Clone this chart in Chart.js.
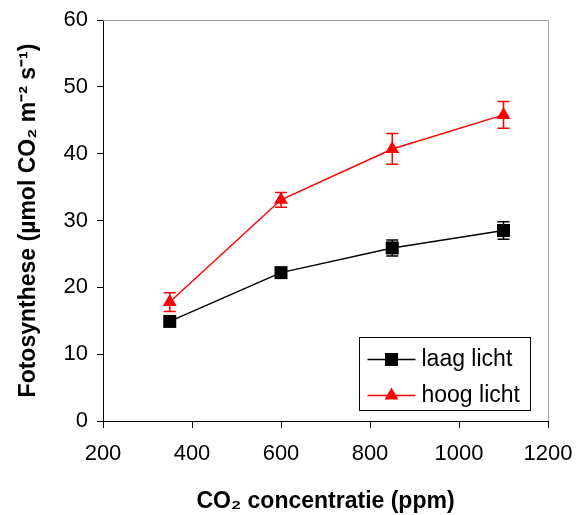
<!DOCTYPE html>
<html>
<head>
<meta charset="utf-8">
<script src="https://cdn.jsdelivr.net/npm/chart.js@4/dist/chart.umd.min.js"></script>
<style>
  html, body { margin: 0; padding: 0; background: #fff; }
</style>
</head>
<body>
<canvas id="myChart" width="576" height="515"></canvas>
<script>
// CO2 concentration (ppm) and photosynthesis values
var co2 = [350, 600, 850, 1100];
var laagLicht = [14.9, 22.2, 25.9, 28.5];
var laagFout = [0.6, 0.7, 1.2, 1.3];
var hoogLicht = [17.8, 33.1, 40.7, 45.8];
var hoogFout = [1.4, 1.1, 2.3, 2.0];
var xTicks = [200, 400, 600, 800, 1000, 1200];
var yTicks = [0, 10, 20, 30, 40, 50, 60];

var FONT = "'Liberation Sans', Arial, sans-serif";

function points(ys) {
  return co2.map(function(x, i) { return { x: x, y: ys[i] }; });
}

// error bars, drawn under the markers
var errorBars = {
  id: 'errorBars',
  beforeDatasetsDraw: function(chart) {
    var ctx = chart.ctx, xs = chart.scales.x, ys = chart.scales.y;
    chart.data.datasets.forEach(function(ds) {
      ctx.save();
      ctx.strokeStyle = ds.borderColor;
      ctx.lineWidth = 1.5;
      ds.data.forEach(function(p, i) {
        var px = xs.getPixelForValue(p.x);
        var top = ys.getPixelForValue(p.y + ds.errors[i]);
        var bot = ys.getPixelForValue(p.y - ds.errors[i]);
        ctx.beginPath();
        ctx.moveTo(px, top); ctx.lineTo(px, bot);
        ctx.moveTo(px - 6, top); ctx.lineTo(px + 6, top);
        ctx.moveTo(px - 6, bot); ctx.lineTo(px + 6, bot);
        ctx.stroke();
      });
      ctx.restore();
    });
  }
};

// grey top/right frame and the boxed legend inside the plot
var frameAndLegend = {
  id: 'frameAndLegend',
  afterDraw: function(chart) {
    var ctx = chart.ctx, a = chart.chartArea;
    ctx.save();
    ctx.strokeStyle = '#a0a0a0';
    ctx.lineWidth = 1;
    ctx.beginPath();
    ctx.moveTo(a.left, a.top + 0.5);
    ctx.lineTo(a.right + 0.5, a.top + 0.5);
    ctx.lineTo(a.right + 0.5, a.bottom);
    ctx.stroke();

    var w = 171, h = 73;
    var bx = Math.round(a.right - 18 - w) + 0.5;
    var by = Math.round(a.bottom - 11 - h) + 0.5;
    ctx.fillStyle = '#fff';
    ctx.fillRect(bx, by, w, h);
    ctx.strokeStyle = '#000';
    ctx.strokeRect(bx, by, w, h);

    chart.data.datasets.forEach(function(ds, i) {
      var cy = by + 22 + i * 36;
      var mx = bx + 32;
      ctx.strokeStyle = ds.borderColor;
      ctx.fillStyle = ds.backgroundColor;
      ctx.lineWidth = 1.5;
      ctx.beginPath();
      ctx.moveTo(bx + 8, cy); ctx.lineTo(bx + 56, cy);
      ctx.stroke();
      ctx.beginPath();
      if (ds.pointStyle === 'rect') {
        ctx.rect(mx - 6.5, cy - 6.5, 13, 13);
      } else {
        var r = ds.pointRadius;
        ctx.moveTo(mx, cy - r);
        ctx.lineTo(mx + r * 0.866, cy + r / 2);
        ctx.lineTo(mx - r * 0.866, cy + r / 2);
        ctx.closePath();
      }
      ctx.fill();
      ctx.fillStyle = '#000';
      ctx.font = '23px ' + FONT;
      ctx.textBaseline = 'middle';
      ctx.textAlign = 'left';
      ctx.fillText(ds.label, bx + 62, cy);
    });
    ctx.restore();
  }
};

var ctx = document.getElementById('myChart').getContext('2d');
var chart = new Chart(ctx, {
  type: 'line',
  data: {
    datasets: [
      {
        label: 'laag licht',
        data: points(laagLicht),
        errors: laagFout,
        borderColor: '#000000',
        backgroundColor: '#000000',
        borderWidth: 1.5,
        pointStyle: 'rect',
        pointRadius: 9.2,
        pointBorderWidth: 0,
        fill: false,
        tension: 0
      },
      {
        label: 'hoog licht',
        data: points(hoogLicht),
        errors: hoogFout,
        borderColor: '#ff0000',
        backgroundColor: '#ff0000',
        borderWidth: 1.5,
        pointStyle: 'triangle',
        pointRadius: 8,
        pointBorderWidth: 0,
        fill: false,
        tension: 0
      }
    ]
  },
  options: {
    responsive: false,
    animation: false,
    layout: { padding: { left: 0, top: 20, right: 28, bottom: 0 } },
    plugins: {
      legend: { display: false },
      tooltip: { enabled: false }
    },
    scales: {
      x: {
        type: 'linear',
        min: 200,
        max: 1200,
        afterBuildTicks: function(s) { s.ticks = xTicks.map(function(v) { return { value: v }; }); },
        afterFit: function(s) { s.height = 94; s.paddingLeft = 0; s.paddingRight = 0; },
        grid: { display: true, drawOnChartArea: false, drawTicks: true, tickLength: 7, color: '#000', lineWidth: 1 },
        border: { display: true, color: '#000', width: 1 },
        ticks: {
          color: '#000', padding: 13, maxRotation: 0,
          font: { family: FONT, size: 22 },
          callback: function(v) { return String(v); }
        },
        title: {
          display: true,
          text: 'CO₂ concentratie (ppm)',
          color: '#000',
          padding: { top: 0, bottom: 0 },
          font: { family: FONT, size: 23, weight: 'bold' }
        }
      },
      y: {
        min: 0,
        max: 60,
        afterBuildTicks: function(s) { s.ticks = yTicks.map(function(v) { return { value: v }; }); },
        afterFit: function(s) { s.width = 103; s.paddingTop = 0; s.paddingBottom = 0; },
        grid: { display: true, drawOnChartArea: false, drawTicks: true, tickLength: 6, color: '#000', lineWidth: 1 },
        border: { display: true, color: '#000', width: 1 },
        ticks: { color: '#000', padding: 9, font: { family: FONT, size: 22 } },
        title: {
          display: true,
          text: 'Fotosynthese (µmol CO₂ m⁻² s⁻¹)',
          color: '#000',
          padding: { top: 15, bottom: 0 },
          font: { family: FONT, size: 23, weight: 'bold' }
        }
      }
    }
  },
  plugins: [errorBars, frameAndLegend]
});
</script>
</body>
</html>
